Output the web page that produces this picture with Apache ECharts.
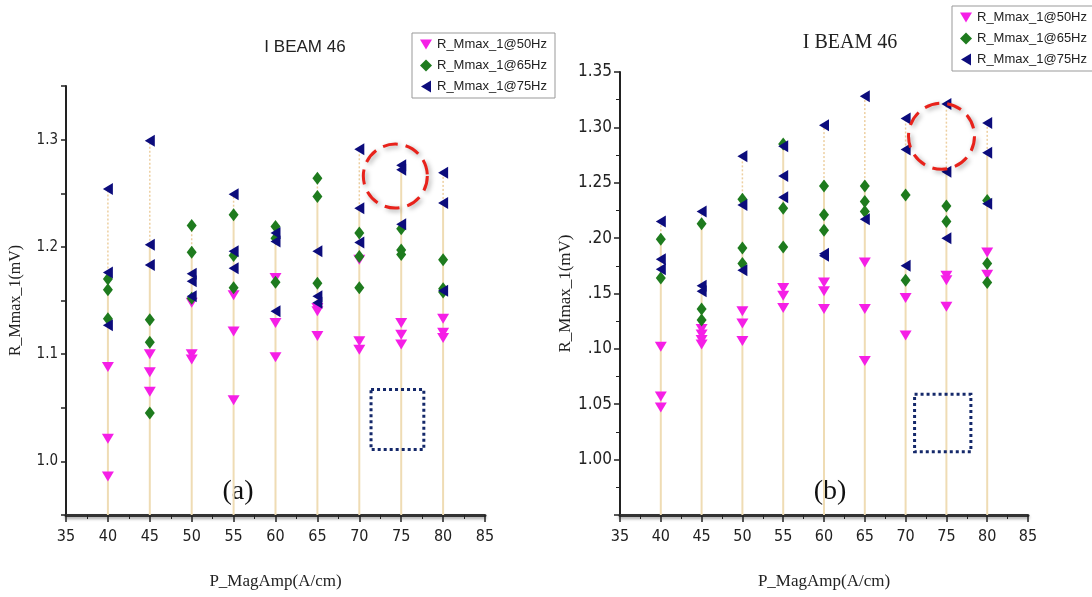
<!DOCTYPE html>
<html>
<head>
<meta charset="utf-8">
<script src="https://cdn.jsdelivr.net/npm/echarts@6/dist/echarts.min.js"></script>
<style>
  html, body { margin: 0; background: #fff; }
  #chart { width: 1092px; height: 597px; }
</style>
</head>
<body>
<div id="chart"></div>
<script>
// P_MagAmp (A/cm) positions
const magAmp = [40, 45, 50, 55, 60, 65, 70, 75, 80];
const seriesNames = ['R_Mmax_1@50Hz', 'R_Mmax_1@65Hz', 'R_Mmax_1@75Hz'];

// (a) readings per magAmp column
const a50 = [
  [1.088, 1.021, 0.986], [1.100, 1.083, 1.065], [1.148, 1.100, 1.095],
  [1.155, 1.121, 1.057], [1.171, 1.129, 1.097], [1.143, 1.140, 1.117],
  [1.188, 1.112, 1.104], [1.129, 1.118, 1.109], [1.133, 1.120, 1.115]
];
const a65 = [
  [1.170, 1.160, 1.133], [1.132, 1.111, 1.045], [1.220, 1.195, 1.152],
  [1.230, 1.192, 1.162], [1.219, 1.208, 1.167], [1.264, 1.247, 1.166],
  [1.213, 1.191, 1.162], [1.217, 1.197, 1.193], [1.188, 1.161, 1.158]
];
const a75 = [
  [1.254, 1.176, 1.127], [1.299, 1.202, 1.183], [1.175, 1.168, 1.154],
  [1.249, 1.196, 1.180], [1.213, 1.205, 1.140], [1.196, 1.154, 1.148],
  [1.291, 1.236, 1.204], [1.276, 1.272, 1.221], [1.269, 1.241, 1.159]
];

// (b) readings per magAmp column
const b50 = [
  [1.102, 1.057, 1.047], [1.118, 1.113, 1.108, 1.104], [1.134, 1.123, 1.107],
  [1.155, 1.148, 1.137], [1.160, 1.152, 1.136], [1.178, 1.136, 1.089],
  [1.146, 1.112], [1.166, 1.162, 1.138], [1.187, 1.167]
];
const b65 = [
  [1.199, 1.164], [1.213, 1.136, 1.126], [1.235, 1.191, 1.177],
  [1.285, 1.227, 1.192], [1.247, 1.221, 1.207], [1.247, 1.233, 1.224],
  [1.239, 1.162], [1.229, 1.215], [1.234, 1.177, 1.160]
];
const b75 = [
  [1.215, 1.181, 1.172], [1.224, 1.157, 1.152], [1.274, 1.230, 1.171],
  [1.283, 1.256, 1.237], [1.302, 1.186, 1.184], [1.328, 1.217],
  [1.308, 1.280, 1.175], [1.321, 1.260, 1.200], [1.304, 1.277, 1.231]
];

const yMin = 0.95, yMax = 1.35;

const colors = ['#f51fe6', '#1e7b1e', '#0c0c7c'];
// down triangle, diamond, left-pointing triangle
const symbols = [
  { symbol: 'path://M0,0 L12,0 L6,10 Z', symbolSize: [12, 10] },
  { symbol: 'diamond', symbolSize: [10, 13] },
  { symbol: 'path://M10,0 L10,12 L0,6 Z', symbolSize: [10, 12] }
];

function toPoints(cols) {
  const out = [];
  cols.forEach((vals, i) => vals.forEach(v => out.push([magAmp[i], v])));
  return out;
}

function scatter(idx, k, cols) {
  return {
    name: seriesNames[k],
    type: 'scatter',
    xAxisIndex: idx,
    yAxisIndex: idx,
    symbol: symbols[k].symbol,
    symbolSize: symbols[k].symbolSize,
    itemStyle: { color: colors[k], opacity: 1 },
    z: 3,
    data: toPoints(cols)
  };
}

// vertical drop lines: solid up to the second highest point, dotted to the top
function dropLines(idx, sets) {
  const items = magAmp.map((x, i) => {
    const vals = sets.flatMap(s => s[i]).sort((p, q) => q - p);
    return [x, vals[0], vals[1]];
  });
  return {
    type: 'custom',
    xAxisIndex: idx,
    yAxisIndex: idx,
    silent: true,
    z: 1,
    renderItem(params, api) {
      const x = api.value(0);
      const base = api.coord([x, yMin]);
      const top = api.coord([x, api.value(1)]);
      const mid = api.coord([x, api.value(2)]);
      return {
        type: 'group',
        children: [
          { type: 'line', shape: { x1: base[0], y1: base[1], x2: mid[0], y2: mid[1] },
            style: { stroke: '#efdcb4', lineWidth: 2 } },
          { type: 'line', shape: { x1: mid[0], y1: mid[1], x2: top[0], y2: top[1] },
            style: { stroke: '#edcfa0', lineWidth: 1.5, lineDash: [2, 2] } }
        ]
      };
    },
    data: items
  };
}

const narrow = '"DejaVu Sans Condensed", "Liberation Sans Narrow", Arial, sans-serif';
const serif = '"Liberation Serif", "Times New Roman", serif';
const sans = '"Liberation Sans", Arial, sans-serif';

function xAxis(idx) {
  return {
    type: 'value',
    gridIndex: idx,
    min: 35, max: 85, interval: 5,
    name: 'P_MagAmp(A/cm)',
    nameLocation: 'middle',
    nameGap: 58,
    nameTextStyle: { fontFamily: serif, fontSize: 17, color: '#222' },
    axisLine: { lineStyle: { color: '#333', width: 3, shadowColor: 'rgba(0,0,0,0.35)', shadowBlur: 3, shadowOffsetY: 2 } },
    axisTick: { inside: false, length: 7, lineStyle: { color: '#222', width: 1.5 } },
    minorTick: { show: true, splitNumber: 2, length: 4, lineStyle: { color: '#222' } },
    axisLabel: { fontFamily: narrow, fontSize: 16, color: '#222', margin: 14 },
    splitLine: { show: false }
  };
}

function legend(left, top) {
  return {
    data: seriesNames, orient: 'vertical', left: left, top: top,
    itemWidth: 12, itemHeight: 12, itemGap: 8, padding: [5, 8, 5, 8],
    borderColor: '#999', borderWidth: 1,
    textStyle: { fontFamily: sans, fontSize: 13, color: '#222' }
  };
}

const chart = echarts.init(document.getElementById('chart'));

const option = {
  animation: false,
  backgroundColor: '#fff',
  grid: [
    { left: 66, top: 86, width: 419, height: 429 },
    { left: 620, top: 72, width: 408, height: 443 }
  ],
  legend: [legend(412, 33), legend(952, 6)],
  xAxis: [xAxis(0), xAxis(1)],
  yAxis: [
    {
      type: 'value', gridIndex: 0, min: yMin, max: yMax, interval: 0.05,
      name: 'R_Mmax_1(mV)', nameLocation: 'middle', nameGap: 42,
      nameTextStyle: { fontFamily: serif, fontSize: 16, color: '#222' },
      axisLine: { show: true, lineStyle: { color: '#222', width: 2 } },
      axisTick: { length: 5, lineStyle: { color: '#222', width: 1.5 } },
      axisLabel: {
        fontFamily: narrow, fontSize: 15, color: '#222', margin: 8,
        formatter: v => (Math.abs(Math.round(v * 10) - v * 10) < 1e-6 ? v.toFixed(1) : '')
      },
      splitLine: { show: false }
    },
    {
      type: 'value', gridIndex: 1, min: yMin, max: yMax, interval: 0.05,
      name: 'R_Mmax_1(mV)', nameLocation: 'middle', nameGap: 45,
      nameTextStyle: { fontFamily: serif, fontSize: 17, color: '#222' },
      axisLine: { show: true, lineStyle: { color: '#222', width: 2 } },
      axisTick: { length: 6, lineStyle: { color: '#222', width: 1.5 } },
      minorTick: { show: true, splitNumber: 2, length: 4, lineStyle: { color: '#222' } },
      axisLabel: {
        fontFamily: narrow, fontSize: 17, color: '#222', margin: 8,
        formatter: v => {
          if (v < 0.99) return '';
          const s = v.toFixed(2);
          return (v > 1.08 && v < 1.22) ? s.slice(1) : s;
        }
      },
      splitLine: { show: false }
    }
  ],
  series: [
    dropLines(0, [a50, a65, a75]),
    scatter(0, 0, a50), scatter(0, 1, a65), scatter(0, 2, a75),
    dropLines(1, [b50, b65, b75]),
    scatter(1, 0, b50), scatter(1, 1, b65), scatter(1, 2, b75)
  ]
};

chart.setOption(option);

// annotations (data coordinates) + panel titles and tags
const rings = [[0, 74.3, 1.266, 32], [1, 74.4, 1.292, 33]];
const boxes = [[0, 71.4, 1.067, 77.7, 1.011], [1, 71.1, 1.059, 78.0, 1.007]];

const graphics = [];
rings.forEach(([g, x, y, r]) => {
  const c = chart.convertToPixel({ gridIndex: g }, [x, y]);
  graphics.push({
    type: 'circle', z: 10, shape: { cx: c[0], cy: c[1], r: r },
    style: { fill: 'none', stroke: '#e8221b', lineWidth: 3, lineDash: [15, 8],
      shadowColor: 'rgba(0,0,0,0.35)', shadowBlur: 5, shadowOffsetX: 2, shadowOffsetY: 2 }
  });
});
boxes.forEach(([g, x1, y1, x2, y2]) => {
  const p1 = chart.convertToPixel({ gridIndex: g }, [x1, y1]);
  const p2 = chart.convertToPixel({ gridIndex: g }, [x2, y2]);
  graphics.push({
    type: 'rect', z: 10, shape: { x: p1[0], y: p1[1], width: p2[0] - p1[0], height: p2[1] - p1[1] },
    style: { fill: 'none', stroke: '#14286a', lineWidth: 3, lineDash: [3, 3] }
  });
});
graphics.push(
  { type: 'text', x: 305, y: 47, style: { text: 'I BEAM 46', align: 'center', verticalAlign: 'middle',
      font: '17px ' + sans, fill: '#222' } },
  { type: 'text', x: 850, y: 43, style: { text: 'I BEAM 46', align: 'center', verticalAlign: 'middle',
      font: '20px ' + serif, fill: '#222' } },
  { type: 'text', x: 238, y: 492, style: { text: '(a)', align: 'center', verticalAlign: 'middle',
      font: '28px ' + serif, fill: '#111' } },
  { type: 'text', x: 830, y: 492, style: { text: '(b)', align: 'center', verticalAlign: 'middle',
      font: '28px ' + serif, fill: '#111' } }
);
chart.setOption({ graphic: graphics });
</script>
</body>
</html>
